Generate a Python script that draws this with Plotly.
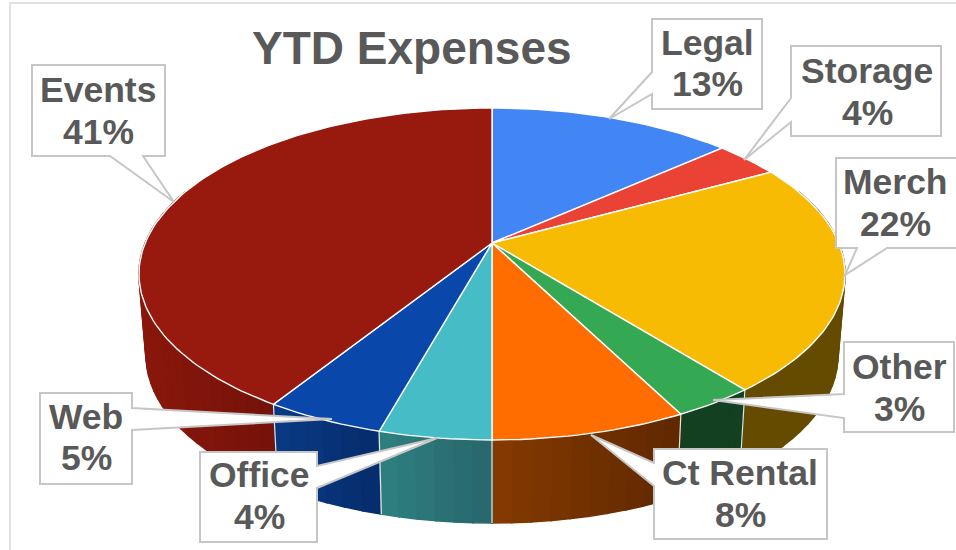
import numpy as np
import plotly.graph_objects as go

# ---- data (clockwise from 12 o'clock) ----
categories = ["Legal", "Storage", "Merch", "Other", "Ct Rental", "Office", "Web", "Events"]
shares = [13.4, 3.6, 22.3, 3.2, 7.5, 4.3, 4.6, 41.1]
top_colors = ["#4285f4", "#ea4335", "#f7bb04", "#34a853", "#ff6d00", "#46bdc6", "#0a47ab", "#98190d"]
wall_left = ["#2a5599", "#8c2820", "#654b00", "#124020", "#853a00", "#2f8082", "#0a3a85", "#8a170b"]
wall_right = ["#2a5599", "#8c2820", "#654b00", "#124020", "#5f2800", "#28666a", "#062c6c", "#75120a"]
title_text = "YTD Expenses"

# ---- view parameters of the tilted disc ----
CX, CY = 492.0, 243.0
B, A, K = 346.8, 160.2, 0.1867
DEPTH, SHRINK, STRETCH = 81.0, 0.98, 1.01
TEXT = "#595959"
EDGE = "#c6c6c6"
FONT = "Liberation Sans"


def top(t):
    u, v = np.sin(t), -np.cos(t)
    d = 1 - K * v
    return CX + B * u / d, CY + A * v / d


def bottom(t):
    x, y = top(t)
    return CX + (x - CX) * SHRINK, CY + (y - CY) * STRETCH + DEPTH


def hex_mix(c1, c2, f):
    a = [int(c1[i:i + 2], 16) for i in (1, 3, 5)]
    b = [int(c2[i:i + 2], 16) for i in (1, 3, 5)]
    return "rgb(%d,%d,%d)" % tuple(round(p + (q - p) * f) for p, q in zip(a, b))


def poly(x, y, fill, line=None, width=0.0):
    return go.Scatter(x=list(x), y=list(y), mode="lines", fill="toself", fillcolor=fill,
                      line=dict(color=line or fill, width=width), hoverinfo="skip", showlegend=False)


edges = np.radians(np.concatenate([[0], np.cumsum(shares)]) * 3.6)
fig = go.Figure()

# side wall strips, far to near
strips = []
lo_vis, hi_vis = np.radians(70), np.radians(290)
for i in range(len(shares)):
    a0, a1 = max(edges[i], lo_vis), min(edges[i + 1], hi_vis)
    if a1 <= a0:
        continue
    n = max(2, int(np.degrees(a1 - a0) / 2.5))
    ts = np.linspace(a0, a1, n + 1)
    xs = top(ts)[0]
    for j in range(n):
        f = (0.5 * (xs[j] + xs[j + 1]) - xs.min()) / (xs.max() - xs.min())
        strips.append((-np.cos(0.5 * (ts[j] + ts[j + 1])), ts[j], ts[j + 1],
                       hex_mix(wall_left[i], wall_right[i], f)))
for _, t0, t1, col in sorted(strips, key=lambda s: s[0]):
    tt = np.array([t0, t1])
    xa, ya = top(tt)
    xb, yb = bottom(tt[::-1])
    fig.add_trace(poly(np.r_[xa, xb, xa[0]], np.r_[ya, yb, ya[0]], col, width=1.6))

# seams between walls
for e in edges[:-1]:
    if lo_vis < e < hi_vis:
        xa, ya = top(e)
        xb, yb = bottom(e)
        fig.add_trace(go.Scatter(x=[xa, xb], y=[ya, yb], mode="lines", hoverinfo="skip", showlegend=False,
                                 line=dict(color="#e4e4e4", width=1.2)))

# top face slices
for i in range(len(shares)):
    ts = np.linspace(edges[i], edges[i + 1], max(8, int(shares[i] * 3)))
    x, y = top(ts)
    fig.add_trace(poly(np.r_[CX, x, CX], np.r_[CY, y, CY], top_colors[i], line="#ffffff", width=1.4))

# callout outlines (box with pointer), drawn over the disc
callouts = [
    [(32, 65), (165, 65), (165, 156), (143, 156), (174, 202), (110, 156), (32, 156)],
    [(652, 19), (762, 19), (762, 109), (652, 109), (652, 94), (609, 119), (652, 72)],
    [(791, 46), (941, 46), (941, 136), (791, 136), (791, 122), (744, 160), (791, 98)],
    [(836, 158), (975, 158), (975, 248), (887, 248), (845, 275), (857, 248), (836, 248)],
    [(844, 342), (954, 342), (954, 432), (844, 432), (844, 418), (713, 400), (844, 394)],
    [(654, 449), (827, 449), (827, 539), (654, 539), (654, 486), (591, 435), (654, 463)],
    [(200, 452), (317, 452), (317, 466), (437, 438), (317, 488), (317, 542), (200, 542)],
    [(40, 393), (132, 393), (132, 408), (332, 419), (132, 430), (132, 484), (40, 484)],
]
shapes = [dict(type="path", xref="x", yref="y", layer="above", fillcolor="#ffffff",
               line=dict(color=EDGE, width=2),
               path="M " + " L ".join(f"{px} {py}" for px, py in c) + " Z") for c in callouts]
shapes.append(dict(type="rect", xref="x", yref="y", x0=10, y0=3, x1=975, y1=570, layer="below",
                   line=dict(color="#e0e0e0", width=2), fillcolor="#ffffff"))

label_pos = {"Legal": (707, 43, 84), "Storage": (867, 71, 113), "Merch": (895, 182, 224),
             "Other": (899, 367, 409), "Ct Rental": (740, 473, 515), "Office": (259, 475, 517),
             "Web": (86, 417, 458), "Events": (98, 90, 132)}
annotations = [dict(x=412, y=48, xref="x", yref="y", text=f"<b>{title_text}</b>", showarrow=False,
                    font=dict(family=FONT, size=46, color=TEXT), xanchor="center", yanchor="middle")]
for name, share in zip(categories, shares):
    lx, y1, y2 = label_pos[name]
    for txt, ly in ((name, y1), (f"{round(share)}%", y2)):
        annotations.append(dict(x=lx, y=ly, xref="x", yref="y", text=f"<b>{txt}</b>", showarrow=False,
                                font=dict(family=FONT, size=35.5, color=TEXT),
                                xanchor="center", yanchor="middle"))

fig.update_layout(width=956, height=550, margin=dict(l=0, r=0, t=0, b=0),
                  paper_bgcolor="#ffffff", plot_bgcolor="#ffffff", showlegend=False,
                  xaxis=dict(range=[0, 956], visible=False, fixedrange=True),
                  yaxis=dict(range=[550, 0], visible=False, fixedrange=True),
                  shapes=shapes, annotations=annotations)
fig.write_html("out.html", config=dict(displayModeBar=False),
               post_script="document.body.style.margin='0';document.body.style.overflow='hidden';window.scrollTo(0,0);")
